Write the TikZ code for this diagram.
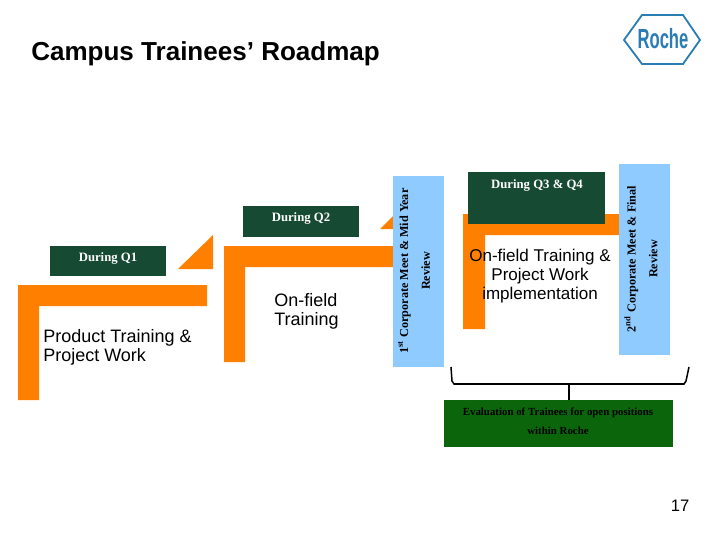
\documentclass[tikz,border=0pt]{standalone}
\usepackage{fontspec}
\setmainfont{Liberation Sans}
\newfontfamily\reviewfont{Liberation Serif}
\usetikzlibrary{calc}
\definecolor{roadorange}{HTML}{FF8000}
\definecolor{quarterfill}{HTML}{174A33}
\definecolor{reviewblue}{HTML}{8FCBFF}
\definecolor{evalgreen}{HTML}{0B660B}
\definecolor{rocheblue}{HTML}{2A7DB2}
\tikzset{
 roadbar/.style={fill=roadorange,draw=none},
 quarter/.style={fill=quarterfill,draw=none,text=white,font=\reviewfont\bfseries\fontsize{9.2}{11}\selectfont,inner sep=0},
 reviewbar/.style={fill=reviewblue,draw=none},
 reviewtext/.style={rotate=90,align=center,inner sep=0,font=\reviewfont\bfseries\fontsize{8.8}{15.7}\selectfont},
 worktext/.style={align=left,inner sep=0,font=\fontsize{13}{13.5}\selectfont},
 bracket/.style={line width=1.1pt}
}
\begin{document}
\begin{tikzpicture}[x=.01in,y=-.01in]
\path[use as bounding box,fill=white] (0,0) rectangle (720,540);
\node[anchor=west,inner sep=0,font=\bfseries\fontsize{18.8}{20}\selectfont] (title) at (31,54) {Campus Trainees’ Roadmap};
\coordinate (hexa) at (624,40);
\coordinate (hexb) at (642,15);
\coordinate (hexc) at (683,15);
\coordinate (hexd) at (700,40);
\coordinate (hexe) at (683,64);
\coordinate (hexf) at (642,64);
\draw[rocheblue,line width=1.3pt] (hexa) -- (hexb) -- (hexc) -- (hexd) -- (hexe) -- (hexf) -- cycle;
\node[text=rocheblue,inner sep=0,xscale=.6,transform shape,font=\bfseries\fontsize{20}{20}\selectfont] (roche) at (663,39) {Roche};
\fill[roadbar] (18,285) -- (207,285) -- (207,306) -- (39,306) -- (39,400) -- (18,400) -- cycle;
\fill[roadbar] (178,269) -- (213,235) -- (213,269) -- cycle;
\fill[roadbar] (224,246) -- (400,246) -- (400,267) -- (245,267) -- (245,362) -- (224,362) -- cycle;
\fill[roadbar] (380,229) -- (395,214) -- (395,229) -- cycle;
\fill[roadbar] (463,214) -- (622,214) -- (622,235) -- (485,235) -- (485,329) -- (463,329) -- cycle;
\fill[reviewbar] (393,176) rectangle (444,367);
\fill[reviewbar] (619,164) rectangle (670,355);
\fill[quarterfill] (50,246) rectangle (166,276);
\fill[quarterfill] (243,206) rectangle (359,237);
\fill[quarterfill] (468,172) rectangle (605,224);
\node[quarter] (qone) at (108,258.5) {During Q1};
\node[quarter] (qtwo) at (301,218.5) {During Q2};
\node[quarter] (qthree) at (537,185) {During Q3 \& Q4};
\node[worktext,anchor=north west] (product) at (43,329) {Product Training \&\\Project Work};
\node[worktext,anchor=north west] (onfield) at (274,293) {On-field\\Training};
\node[worktext,align=center,anchor=north,font=\fontsize{12.3}{13.5}\selectfont] (implement) at (540,249) {On-field Training \&\\Project Work\\implementation};
\node[reviewtext] (midyear) at (414,271) {1\textsuperscript{st} Corporate Meet \& Mid Year\\Review};
\node[reviewtext] (final) at (641,259) {2\textsuperscript{nd} Corporate Meet \& Final\\Review};
\fill[evalgreen] (444,400) rectangle (673,447);
\node[align=center,inner sep=0,font=\reviewfont\bfseries\fontsize{7.85}{13.7}\selectfont] (eval) at (558,421) {Evaluation of Trainees for open positions\\within Roche};
\coordinate (braceleft) at (451,367);
\coordinate (braceright) at (689,367);
\coordinate (bracemid) at (569,384);
\coordinate (bracefoot) at (569,400);
\draw[bracket] (braceleft) -- ++(1,14) -- ++(2,3) -- (bracemid) -- ++(115,0) -- ++(2,-3) -- (braceright);
\draw[bracket] (bracemid) -- (bracefoot);
\node[inner sep=0,font=\fontsize{12}{14}\selectfont] (pagenum) at (680,506) {17};
\end{tikzpicture}
\end{document}
